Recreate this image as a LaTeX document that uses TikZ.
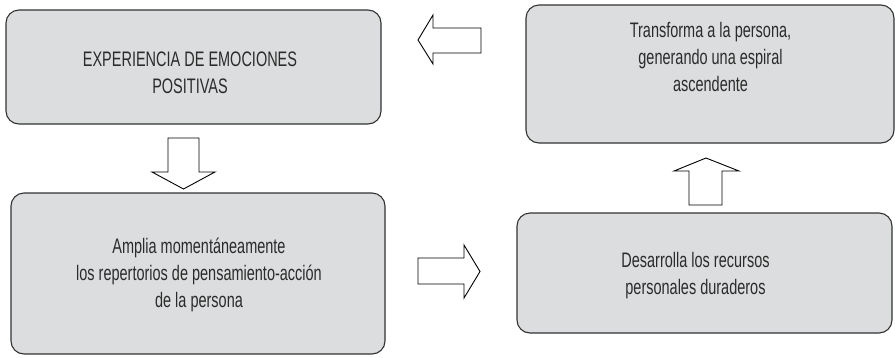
\documentclass[tikz,border=0pt]{standalone}
\usepackage{fontspec}
\setmainfont{Liberation Sans}[FakeStretch=0.69]
\begin{document}
\begin{tikzpicture}[x=1pt,y=-1pt,
  stagebox/.style={draw=boxline,line width=1.1pt,fill=boxfill,rounded corners=13pt},
  stagetext/.style={align=center,inner sep=0pt,text=inkgray,
    font=\fontsize{21}{26.8}\selectfont},
  blockarrow/.style={draw=black,line width=0.9pt,fill=white,line join=miter}]
\definecolor{boxfill}{HTML}{DCDDDE}
\definecolor{boxline}{HTML}{333333}
\definecolor{inkgray}{HTML}{2B2B2B}
\useasboundingbox (0,0) rectangle (895,357);

% stage boxes
\draw[stagebox] (6,10) rectangle (381,124);
\draw[stagebox] (526,5) rectangle (894,143);
\draw[stagebox] (11,193) rectangle (385,354);
\draw[stagebox] (517,213) rectangle (892,333);

% stage texts
\node[stagetext] (emociones) at (190,72.5) {EXPERIENCIA DE EMOCIONES\\POSITIVAS};
\node[stagetext] (amplia) at (199,275) {Amplia momentáneamente\\los repertorios de pensamiento-acción\\de la persona};
\node[stagetext] (recursos) at (695.5,275.5) {Desarrolla los recursos\\personales duraderos};
\node[stagetext] (transforma) at (710.5,57) {Transforma a la persona,\\generando una espiral\\ascendente};

% hollow block arrows between the stages
\draw[blockarrow] (168,138) -- (199,138) -- (199,172) -- (215,172) -- (183.5,189)
  -- (152,172) -- (168,172) -- cycle;
\draw[blockarrow] (418,258) -- (464,258) -- (464,245) -- (480,271.5) -- (464,298)
  -- (464,284) -- (418,284) -- cycle;
\draw[blockarrow] (689,205) -- (689,171) -- (674,171) -- (706,158) -- (739,171)
  -- (722,171) -- (722,205) -- cycle;
\draw[blockarrow] (481,28) -- (433,28) -- (433,15) -- (418,40) -- (433,64)
  -- (433,53) -- (481,53) -- cycle;
\end{tikzpicture}
\end{document}
